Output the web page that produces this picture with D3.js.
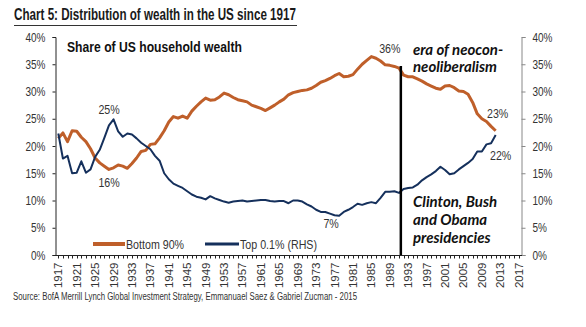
<!DOCTYPE html>
<html>
<head>
<meta charset="utf-8">
<script src="https://cdn.jsdelivr.net/npm/d3@7"></script>
<style>
  html, body { margin: 0; padding: 0; background: #fff; }
  svg { display: block; }
  text { font-family: "Liberation Sans", Arial, sans-serif; }
</style>
</head>
<body>
<svg id="chart" width="586" height="327"></svg>
<script>
// Years covered by both series
const years = d3.range(1917, 2013);

// Wealth share of the bottom 90% of households (%, left axis)
const bottom90 = [
  21.4, 22.4, 20.8, 22.8, 22.7, 21.6, 20.8, 19.5, 17.8, 16.9,
  16.3, 15.7, 16.0, 16.5, 16.3, 15.9, 16.8, 17.8, 19.0, 19.2,
  20.3, 20.4, 21.5, 22.8, 24.4, 25.4, 25.1, 25.5, 25.1, 26.4,
  27.3, 28.1, 28.8, 28.4, 28.5, 29.0, 29.7, 29.4, 28.9, 28.5,
  28.3, 28.1, 27.5, 27.2, 26.9, 26.5, 27.0, 27.5, 28.1, 28.6,
  29.4, 29.8, 30.0, 30.2, 30.3, 30.6, 31.1, 31.7, 32.0, 32.4,
  32.9, 33.3, 32.7, 32.8, 33.1, 34.1, 35.0, 35.7, 36.4, 36.1,
  35.6, 34.9, 34.8, 34.6, 34.3, 33.0, 32.7, 32.7, 32.3, 31.9,
  31.4, 31.0, 30.6, 30.4, 31.0, 31.1, 30.7, 30.1, 30.0, 29.5,
  28.0, 25.9, 25.0, 24.5, 23.6, 22.8
];

// Wealth share of the top 0.1% (%, right-hand axis)
const top01 = [
  22.3, 17.7, 18.2, 15.0, 15.1, 17.2, 15.1, 15.7, 18.0, 19.3,
  21.5, 23.8, 24.9, 22.7, 21.7, 22.3, 22.1, 21.4, 20.6, 20.0,
  19.4, 18.2, 17.3, 15.0, 13.9, 13.1, 12.7, 12.3, 11.7, 11.1,
  10.7, 10.5, 10.2, 10.8, 10.4, 10.1, 9.8, 9.6, 9.8, 9.9,
  10.0, 9.8, 9.9, 10.0, 10.1, 10.1, 9.9, 9.8, 9.9, 9.9,
  9.5, 10.0, 10.0, 9.8, 9.3, 8.9, 8.3, 7.9, 7.9, 7.6,
  7.3, 7.2, 7.9, 8.3, 8.8, 9.4, 9.2, 9.5, 9.7, 9.5,
  10.5, 11.6, 11.6, 11.7, 11.4, 12.1, 12.3, 12.4, 12.9, 13.7,
  14.3, 14.8, 15.4, 16.2, 15.6, 14.8, 15.0, 15.7, 16.3, 16.9,
  17.6, 19.0, 19.0, 20.3, 20.5, 22.0
];

// Axis ticks
const yTicks = [0, 5, 10, 15, 20, 25, 30, 35, 40];
const xTickYears = d3.range(1917, 2018, 4);
const xMinorYears = d3.range(1917, 2018);

// Value call-outs: [series, year, text]
const callouts = [
  ["top", 1929, "25%"],
  ["bottom", 1929, "16%"],
  ["bottom", 1985, "36%"],
  ["top", 1978, "7%"],
  ["bottom", 2012, "23%"],
  ["top", 2012, "22%"]
];

const eraStart = 1991.4;

const orange = "#bf5f2a";
const navy = "#15305c";

// Squeeze text horizontally to a narrow face
function condense(sel, f) {
  sel.each(function () {
    const w = this.getComputedTextLength();
    d3.select(this).attr("textLength", w * f).attr("lengthAdjust", "spacingAndGlyphs");
  });
}

const svg = d3.select("#chart");

const x = d3.scaleLinear().domain([1916.5, 2017.5]).range([56, 521]);
const y = d3.scaleLinear().domain([0, 40]).range([255, 37]);

// Title with rule beneath
svg.append("text")
  .attr("x", 14).attr("y", 20)
  .attr("font-size", 16).attr("font-weight", "bold").attr("fill", "#1a1a1a")
  .attr("textLength", 282).attr("lengthAdjust", "spacingAndGlyphs")
  .text("Chart 5: Distribution of wealth in the US since 1917");
svg.append("line")
  .attr("x1", 14).attr("x2", 297).attr("y1", 25.5).attr("y2", 25.5)
  .attr("stroke", "#333").attr("stroke-width", 1);

// Left axis
const yLeft = d3.axisLeft(y).tickValues(yTicks).tickSize(3).tickPadding(7)
  .tickFormat(d => d + "%");
const gL = svg.append("g").attr("transform", "translate(55.5,0)").call(yLeft);
gL.select(".domain").attr("stroke", "#222");
gL.selectAll(".tick line").attr("stroke", "#222");
gL.selectAll("text").attr("font-size", 12.5).attr("fill", "#333")
  .attr("font-family", "Liberation Sans, Arial, sans-serif").call(condense, 0.8);

// Right axis
const yRight = d3.axisRight(y).tickValues(yTicks).tickSize(4).tickPadding(7)
  .tickFormat(d => d + "%");
const gR = svg.append("g").attr("transform", "translate(521.5,0)").call(yRight);
gR.select(".domain").attr("stroke", "#888");
gR.selectAll(".tick line").attr("stroke", "#888");
gR.selectAll("text").attr("font-size", 12.5).attr("fill", "#333")
  .attr("font-family", "Liberation Sans, Arial, sans-serif").call(condense, 0.8);

// Bottom axis: a tick per year, a label every four years
const gX = svg.append("g").attr("transform", "translate(0,255.5)");
gX.append("line").attr("x1", 55).attr("x2", 522).attr("stroke", "#222");
gX.selectAll("line.minor").data(xMinorYears).join("line")
  .attr("class", "minor")
  .attr("x1", d => Math.round(x(d)) + 0.5).attr("x2", d => Math.round(x(d)) + 0.5)
  .attr("y1", 0).attr("y2", 3).attr("stroke", "#222");
gX.selectAll("text").data(xTickYears).join("text")
  .attr("transform", d => `translate(${x(d) + 4},${7}) rotate(-90)`)
  .attr("text-anchor", "end")
  .attr("font-size", 11.5).attr("fill", "#333")
  .text(d => d);

// Series lines
const line = d3.line().x((d, i) => x(years[i])).y(d => y(d)).curve(d3.curveLinear);
svg.append("path").datum(bottom90)
  .attr("d", line).attr("fill", "none")
  .attr("stroke", orange).attr("stroke-width", 3).attr("stroke-linejoin", "round");
svg.append("path").datum(top01)
  .attr("d", line).attr("fill", "none")
  .attr("stroke", navy).attr("stroke-width", 2).attr("stroke-linejoin", "round");

// Start of the era marker
svg.append("line")
  .attr("x1", x(eraStart)).attr("x2", x(eraStart))
  .attr("y1", 66).attr("y2", 255)
  .attr("stroke", "#000").attr("stroke-width", 2.5);

// Value call-outs
const seriesOf = { top: top01, bottom: bottom90 };
const offsets = {
  "25%": [-4.5, -5.5], "16%": [-4.5, 19], "36%": [18.5, -3.5],
  "7%": [-8, 12], "23%": [2, -12.5], "22%": [5, 25]
};
svg.selectAll("text.callout").data(callouts).join("text")
  .attr("class", "callout")
  .attr("x", d => x(d[1]) + offsets[d[2]][0])
  .attr("y", d => y(seriesOf[d[0]][d[1] - 1917]) + offsets[d[2]][1])
  .attr("text-anchor", "middle")
  .attr("font-size", 13).attr("fill", "#333")
  .text(d => d[2])
  .call(condense, 0.82);

// Subtitle
svg.append("text")
  .attr("x", 67).attr("y", 52)
  .attr("font-size", 15).attr("font-weight", "bold").attr("fill", "#111")
  .text("Share of US household wealth")
  .call(condense, 0.81);

// Annotations
const anno = svg.append("g")
  .attr("font-style", "italic").attr("font-weight", "bold")
  .attr("font-size", 15).attr("fill", "#111");
[["era of neocon-", 55], ["neoliberalism", 72],
 ["Clinton, Bush", 207], ["and Obama", 225], ["presidencies", 243]]
  .forEach(([t, yy]) => {
    anno.append("text").attr("x", 413).attr("y", yy)
      .style("font-family", "Lato, 'Open Sans', sans-serif").text(t);
  });

// Legend
const legend = [["Bottom 90%", orange, 3, 93, 125], ["Top 0.1% (RHS)", navy, 2, 205, 239]];
legend.forEach(([label, c, w, x0, x1]) => {
  svg.append("line").attr("x1", x0).attr("x2", x1).attr("y1", 244).attr("y2", 244)
    .attr("stroke", c).attr("stroke-width", w + 1);
  svg.append("text").attr("x", x1 + 1).attr("y", 248.5)
    .attr("font-size", 13).attr("fill", "#333").text(label)
    .call(condense, 0.82);
});

// Source line
svg.append("text")
  .attr("x", 13).attr("y", 300)
  .attr("font-family", "'Open Sans', sans-serif")
  .attr("font-size", 10).attr("fill", "#333")
  .attr("textLength", 344).attr("lengthAdjust", "spacingAndGlyphs")
  .text("Source: BofA Merrill Lynch Global Investment Strategy, Emmanuael Saez & Gabriel Zucman - 2015");
</script>
</body>
</html>
